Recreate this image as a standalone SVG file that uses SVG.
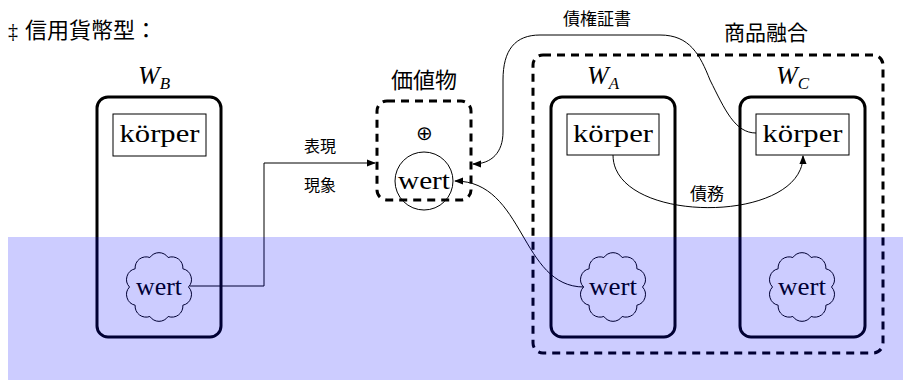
<svg xmlns="http://www.w3.org/2000/svg" width="903" height="380" viewBox="0 0 903 380">
<style>
.cjk{font-family:"Noto Sans CJK JP",sans-serif;fill:#000}
.lat{font-family:"Liberation Serif",serif;fill:#000}
.it{font-family:"Liberation Serif",serif;font-style:italic;fill:#000}
.wbox{fill:none;stroke:#000;stroke-width:3}
.kbox{fill:#fff;stroke:#000;stroke-width:1}
.dash{fill:none;stroke:#000;stroke-width:3;stroke-dasharray:8 6}
.cloud{fill:none;stroke:#000;stroke-width:1}
.conn{fill:none;stroke:#000;stroke-width:1}
</style>
<defs>
<marker id="ah" viewBox="0 0 10 10" refX="9" refY="5" markerWidth="9" markerHeight="9" markerUnits="userSpaceOnUse" orient="auto">
<path d="M0,1 L10,5 L0,9 z" fill="#000"/>
</marker>
<path id="cloudp" d="M29.5,0 A11,11 0 0 1 23.87,18.22 A11,11 0 0 1 9.12,29.48 A11,11 0 0 1 -9.12,29.48 A11,11 0 0 1 -23.87,18.22 A11,11 0 0 1 -29.5,0 A11,11 0 0 1 -23.87,-18.22 A11,11 0 0 1 -9.12,-29.48 A11,11 0 0 1 9.12,-29.48 A11,11 0 0 1 23.87,-18.22 A11,11 0 0 1 29.5,0 Z"/>
</defs>
<rect width="903" height="380" fill="#fff"/>

<g id="title">
<text x="8" y="38" class="lat" font-size="20">‡</text>
<text x="25" y="38" class="cjk" font-size="22">信用貨幣型：</text>
</g>

<g id="WB">
<text x="138" y="84" class="it" font-size="26">W<tspan font-size="17" dy="5">B</tspan></text>
<rect x="97" y="97" width="124" height="240" rx="11" class="wbox"/>
<rect x="113" y="114" width="93" height="42" class="kbox"/>
<text x="159.5" y="142" class="lat" font-size="25" text-anchor="middle" textLength="80" lengthAdjust="spacingAndGlyphs">körper</text>
<use href="#cloudp" transform="translate(159,287)" class="cloud"/>
<text x="159" y="295" class="lat" font-size="25" text-anchor="middle" textLength="46" lengthAdjust="spacingAndGlyphs">wert</text>
</g>

<g id="value">
<text x="424" y="88" class="cjk" font-size="22" text-anchor="middle">価値物</text>
<rect x="377" y="101" width="94" height="99" rx="10" class="dash"/>
<text x="424" y="140" class="lat" font-size="20" text-anchor="middle">⊕</text>
<circle cx="424" cy="181" r="29" fill="none" stroke="#000" stroke-width="1"/>
<text x="424" y="189" class="lat" font-size="25" text-anchor="middle" textLength="52" lengthAdjust="spacingAndGlyphs">wert</text>
</g>

<g id="fusion">
<text x="766" y="40" class="cjk" font-size="21" text-anchor="middle">商品融合</text>
<rect x="533" y="55" width="350" height="298" rx="10" class="dash"/>
</g>

<g id="WA">
<text x="587" y="84" class="it" font-size="26">W<tspan font-size="17" dy="5">A</tspan></text>
<rect x="551" y="97" width="124" height="240" rx="11" class="wbox"/>
<rect x="567" y="114" width="92" height="41" class="kbox"/>
<text x="613" y="142" class="lat" font-size="25" text-anchor="middle" textLength="80" lengthAdjust="spacingAndGlyphs">körper</text>
<use href="#cloudp" transform="translate(613,287)" class="cloud"/>
<text x="613" y="295" class="lat" font-size="25" text-anchor="middle" textLength="48" lengthAdjust="spacingAndGlyphs">wert</text>
</g>

<g id="WC">
<text x="776" y="84" class="it" font-size="26">W<tspan font-size="17" dy="5">C</tspan></text>
<rect x="740" y="97" width="125" height="240" rx="11" class="wbox"/>
<rect x="756" y="114" width="93" height="41" class="kbox"/>
<text x="802.5" y="142" class="lat" font-size="25" text-anchor="middle" textLength="80" lengthAdjust="spacingAndGlyphs">körper</text>
<use href="#cloudp" transform="translate(802,287)" class="cloud"/>
<text x="802" y="295" class="lat" font-size="25" text-anchor="middle" textLength="48" lengthAdjust="spacingAndGlyphs">wert</text>
</g>

<g id="connectors">
<path d="M190,286 L264,286 L264,163 L375,163" class="conn" stroke="#333" marker-end="url(#ah)"/>
<text x="320" y="152" class="cjk" font-size="16" text-anchor="middle">表現</text>
<text x="320" y="191" class="cjk" font-size="16" text-anchor="middle">現象</text>
<path d="M584,287 C520,287 525,181 455,181" class="conn" marker-end="url(#ah)"/>
<path d="M756,133 C735,133 725,110 710,80 C700,55 690,35 660,35 L540,35 C515,35 503,50 503,80 L503,132 C503,152 492,164 473,164" class="conn" marker-end="url(#ah)"/>
<text x="597" y="25" class="cjk" font-size="17" text-anchor="middle">債権証書</text>
<path d="M613,155 C613,225 803,225 803,156" class="conn" marker-end="url(#ah)"/>
<text x="707" y="200" class="cjk" font-size="17" text-anchor="middle">債務</text>
</g>

<rect x="8" y="237" width="895" height="143" fill="#0000ff" fill-opacity="0.2"/>
</svg>
